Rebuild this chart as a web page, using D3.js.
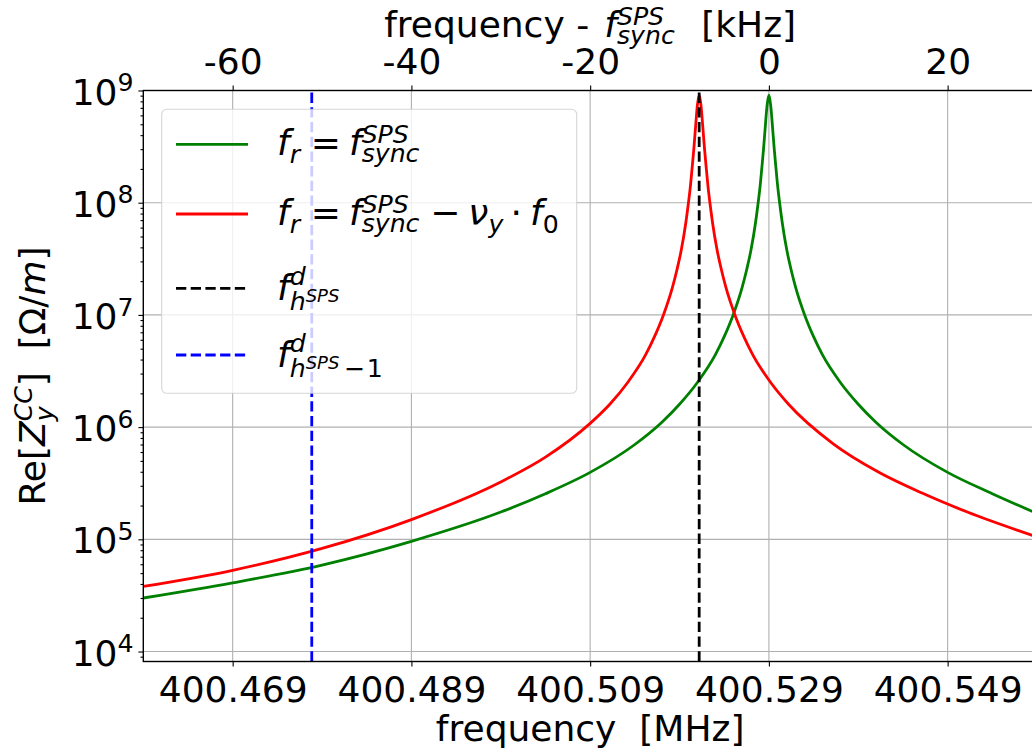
<!DOCTYPE html>
<html><head><meta charset="utf-8">
<script src="https://cdn.jsdelivr.net/npm/d3@7"></script>
<style>
body{margin:0;background:#fff}
svg{display:block}
text{font-family:"DejaVu Sans";white-space:pre;fill:#000}
</style>
</head><body>
<svg id="c" width="1032" height="756"></svg>
<script>
// ---------------- data ----------------
const xLimits = [-70, 30];               // kHz relative to f_sync
const yLimits = [8150, 1e9];             // Re[Z] (Ohm/m)
const tickOffsets = [-60, -40, -20, 0, 20];
const topTickLabels = ["-60", "-40", "-20", "0", "20"];
const bottomTickLabels = ["400.469", "400.489", "400.509", "400.529", "400.549"];
const yTickExps = [4, 5, 6, 7, 8, 9];

const greenFreq = [-70,-60,-50,-40,-30,-25,-20,-15,-12,-10,-8,-6,-5,-4,-3,-2.5,-2,-1.5,-1.2,-1,-0.8,-0.6,-0.4,-0.2,0,
  0.2,0.4,0.6,0.8,1,1.2,1.5,2,2.5,3,4,5,6,8,10,12,15,20,25,30];
const greenZ = [3.0e4,4.1e4,5.9e4,9.6e4,1.75e5,2.55e5,3.95e5,7.0e5,1.1e6,1.6e6,2.5e6,4.4e6,6.4e6,1.0e7,1.75e7,2.5e7,3.8e7,6.6e7,1.0e8,1.36e8,2.0e8,3.0e8,4.8e8,7.4e8,9.1e8,
  7.4e8,4.8e8,3.0e8,2.0e8,1.36e8,1.0e8,6.6e7,3.8e7,2.5e7,1.75e7,1.0e7,6.4e6,4.4e6,2.5e6,1.6e6,1.1e6,7.0e5,3.95e5,2.55e5,1.7e5];

const redFreq = [-70,-60,-50,-40,-30,-25,-20,-17.8,-15.8,-13.8,-12.8,-11.8,-10.8,-10.3,-9.8,-9.3,-9.0,-8.8,-8.6,-8.4,-8.2,-8.0,-7.8,
  -7.6,-7.4,-7.2,-7.0,-6.8,-6.6,-6.3,-5.8,-5.3,-4.8,-3.8,-2.8,-1.8,0.2,2.2,7.2,12.2,17.2,22.2,30];
const redZ = [3.8e4,5.3e4,8.3e4,1.5e5,3.25e5,5.4e5,1.08e6,1.6e6,2.5e6,4.4e6,6.4e6,1.0e7,1.75e7,2.5e7,3.8e7,6.6e7,1.0e8,1.36e8,2.0e8,3.0e8,4.8e8,7.4e8,9.1e8,
  7.4e8,4.8e8,3.0e8,2.0e8,1.36e8,1.0e8,6.6e7,3.8e7,2.5e7,1.75e7,1.0e7,6.4e6,4.4e6,2.5e6,1.6e6,7.1e5,4.0e5,2.57e5,1.75e5,1.05e5];

const blackLineX = -7.8;    // f_h^d
const blueLineX = -51.15;   // f_{h-1}^d

// ---------------- layout ----------------
const W = 1032, H = 756;
const L = 143.3, R = 1037, T = 90.5, B = 661.5;
const FS = 36;
const svg = d3.select("#c");

const x = d3.scaleLinear().domain(xLimits).range([L, R]);
const y = d3.scaleLog().domain(yLimits).range([B, T]);

// math-like text helper
function mathText(parent, parts, size) {
  const g = parent.append("g");
  let cx = 0, lastStart = 0;
  parts.forEach(p => {
    const fs = size * (p.s || 1);
    const start = p.stack ? lastStart : cx + (p.pre || 0) * size;
    const t = g.append("text").attr("x", start).attr("y", (p.dy || 0) * size)
      .attr("font-size", fs).attr("font-style", p.i ? "italic" : "normal").text(p.t);
    const w = t.node().getComputedTextLength();
    cx = p.stack ? Math.max(cx, start + w) : start + w;
    cx += (p.post || 0) * size;
    lastStart = start;
  });
  return { g, width: cx };
}

svg.append("defs").append("clipPath").attr("id", "clip")
  .append("rect").attr("x", L).attr("y", T).attr("width", R - L).attr("height", B - T);

// grid
const grid = svg.append("g").attr("stroke", "#b0b0b0").attr("stroke-width", 1.1);
grid.selectAll("line.v").data(tickOffsets).join("line")
  .attr("x1", d => x(d)).attr("x2", d => x(d)).attr("y1", T).attr("y2", B);
grid.selectAll("line.h").data(yTickExps).join("line")
  .attr("y1", d => y(10 ** d)).attr("y2", d => y(10 ** d)).attr("x1", L).attr("x2", R);

// curves
const line = d3.line().x(d => x(d[0])).y(d => y(d[1])).curve(d3.curveMonotoneX);
const plot = svg.append("g").attr("clip-path", "url(#clip)");
plot.append("path").datum(d3.zip(greenFreq, greenZ)).attr("d", line)
  .attr("fill", "none").attr("stroke", "#008000").attr("stroke-width", 2.8);
plot.append("path").datum(d3.zip(redFreq, redZ)).attr("d", line)
  .attr("fill", "none").attr("stroke", "#ff0000").attr("stroke-width", 2.8);
[[blackLineX, "#000000"], [blueLineX, "#0000ff"]].forEach(([v, c]) => {
  plot.append("line").attr("x1", x(v)).attr("x2", x(v)).attr("y1", B).attr("y2", T)
    .attr("stroke", c).attr("stroke-width", 2.8).attr("stroke-dasharray", "10.3,4.4");
});

// axes
const axB = svg.append("g").attr("transform", `translate(0,${B})`)
  .call(d3.axisBottom(x).tickValues(tickOffsets).tickSize(4.9).tickSizeOuter(0).tickPadding(6)
    .tickFormat((d, i) => bottomTickLabels[i]));
const axT = svg.append("g").attr("transform", `translate(0,${T})`)
  .call(d3.axisTop(x).tickValues(tickOffsets).tickSize(4.9).tickSizeOuter(0).tickPadding(6)
    .tickFormat((d, i) => topTickLabels[i]));
[axB, axT].forEach(a => {
  a.select(".domain").remove();
  a.selectAll(".tick line").attr("stroke", "#000").attr("stroke-width", 1.1);
  a.selectAll(".tick text").attr("font-size", FS).attr("font-family", "DejaVu Sans").attr("fill", "#000");
});
axB.selectAll(".tick text").attr("y", 13).attr("dy", "0.75em");
axT.selectAll(".tick text").attr("y", -17).attr("dy", "0");

const minorVals = [];
for (let e = 3; e <= 8; e++) for (let m = 2; m <= 9; m++) {
  const v = m * 10 ** e; if (v >= yLimits[0] && v <= yLimits[1]) minorVals.push(v);
}
const axLmin = svg.append("g").attr("transform", `translate(${L},0)`)
  .call(d3.axisLeft(y).tickValues(minorVals).tickSize(2.8).tickSizeOuter(0).tickFormat(""));
const axL = svg.append("g").attr("transform", `translate(${L},0)`)
  .call(d3.axisLeft(y).tickValues(yTickExps.map(e => 10 ** e)).tickSize(4.9).tickSizeOuter(0).tickFormat(""));
[axLmin, axL].forEach(a => {
  a.select(".domain").remove();
  a.selectAll(".tick line").attr("stroke", "#000").attr("stroke-width", 1.1);
});
yTickExps.forEach(e => {
  const m = mathText(svg, [{ t: "10" }, { t: String(e), s: 0.7, dy: -0.37 }], FS);
  m.g.attr("transform", `translate(${L - 9.8 - m.width},${y(10 ** e) + 14})`);
});

// spines
svg.append("rect").attr("x", L).attr("y", T).attr("width", R - L).attr("height", B - T)
  .attr("fill", "none").attr("stroke", "#000").attr("stroke-width", 1.4);

// axis titles
{
  const m = mathText(svg, [{ t: "frequency  [MHz]" }], FS);
  m.g.attr("transform", `translate(${(L + R) / 2 - m.width / 2},741)`);
}
{
  const m = mathText(svg, [{ t: "frequency - " }, { t: "f", i: 1, pre: 0.1 },
    { t: "SPS", i: 1, s: 0.7, dy: -0.33 }, { t: "sync", i: 1, s: 0.7, dy: 0.2, stack: 1 },
    { t: "  [kHz]", pre: 0.1 }], FS);
  m.g.attr("transform", `translate(${(L + R) / 2 - m.width / 2},37)`);
}
{
  const m = mathText(svg, [{ t: "Re[" }, { t: "Z", i: 1 },
    { t: "CC", i: 1, s: 0.7, dy: -0.36 }, { t: "y", i: 1, s: 0.7, dy: 0.22, stack: 1 },
    { t: "]  [" }, { t: "Ω" }, { t: "/" }, { t: "m", i: 1 }, { t: "]" }], FS);
  m.g.attr("transform", `translate(45,${(T + B) / 2 + m.width / 2}) rotate(-90)`);
}

// legend
const lg = svg.append("g");
lg.append("rect").attr("x", 161.7).attr("y", 109.3).attr("width", 415).attr("height", 284).attr("rx", 5)
  .attr("fill", "#fff").attr("fill-opacity", 0.8).attr("stroke", "#cccccc").attr("stroke-opacity", 0.8)
  .attr("stroke-width", 1.1);
const legendItems = [
  { c: "#008000", dash: null, yl: 144.3, yb: 155, parts: [
    { t: "f", i: 1 }, { t: "r", i: 1, s: 0.7, dy: 0.22 }, { t: "=", pre: 0.3, post: 0.22 }, { t: "f", i: 1 },
    { t: "SPS", i: 1, s: 0.7, dy: -0.33 }, { t: "sync", i: 1, s: 0.7, dy: 0.2, stack: 1 }] },
  { c: "#ff0000", dash: null, yl: 214, yb: 225, parts: [
    { t: "f", i: 1 }, { t: "r", i: 1, s: 0.7, dy: 0.22 }, { t: "=", pre: 0.3, post: 0.22 }, { t: "f", i: 1 },
    { t: "SPS", i: 1, s: 0.7, dy: -0.33 }, { t: "sync", i: 1, s: 0.7, dy: 0.2, stack: 1 },
    { t: "−", pre: 0.3, post: 0.22 }, { t: "ν", i: 1 }, { t: "y", i: 1, s: 0.7, dy: 0.22 },
    { t: "·", pre: 0.2, post: 0.22 }, { t: "f", i: 1 }, { t: "0", s: 0.7, dy: 0.22 }] },
  { c: "#000000", dash: "10.3,4.4", yl: 288.3, yb: 300, parts: [
    { t: "f", i: 1 }, { t: "d", i: 1, s: 0.7, dy: -0.42 }, { t: "h", i: 1, s: 0.7, dy: 0.28, stack: 1 },
    { t: "SPS", i: 1, s: 0.5, dy: 0.05 }] },
  { c: "#0000ff", dash: "10.3,4.4", yl: 355, yb: 367, parts: [
    { t: "f", i: 1 }, { t: "d", i: 1, s: 0.7, dy: -0.42 }, { t: "h", i: 1, s: 0.7, dy: 0.28, stack: 1 },
    { t: "SPS", i: 1, s: 0.5, dy: 0.05 }, { t: "−", s: 0.7, dy: 0.28, pre: 0.12 }, { t: "1", s: 0.7, dy: 0.28, pre: 0.05 }] }
];
legendItems.forEach(it => {
  lg.append("line").attr("x1", 176).attr("x2", 248).attr("y1", it.yl).attr("y2", it.yl)
    .attr("stroke", it.c).attr("stroke-width", 2.8).attr("stroke-dasharray", it.dash);
  const m = mathText(lg, it.parts, FS);
  m.g.attr("transform", `translate(277,${it.yb})`);
});
</script>
</body></html>
